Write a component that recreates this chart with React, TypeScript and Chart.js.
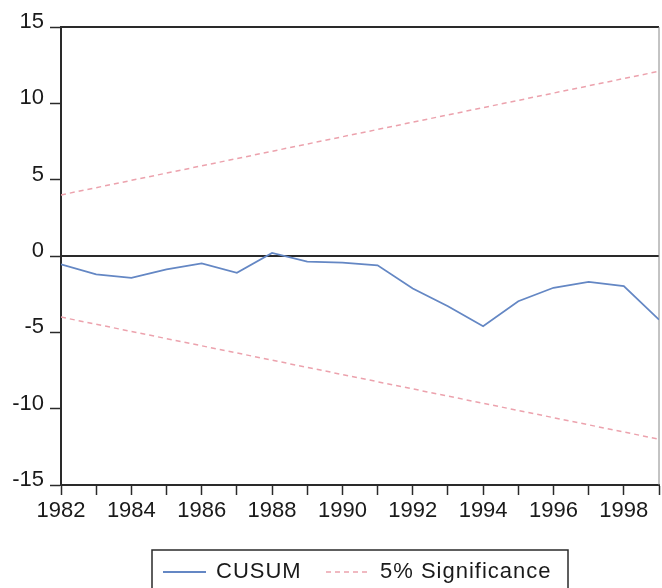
import React, { useEffect, useRef } from "react";
import { Chart, registerables } from "chart.js";

Chart.register(...registerables);

const years = [1982, 1983, 1984, 1985, 1986, 1987, 1988, 1989, 1990, 1991, 1992, 1993, 1994, 1995, 1996, 1997, 1998, 1999];
const cusum = [-0.55, -1.2, -1.43, -0.87, -0.48, -1.1, 0.2, -0.37, -0.44, -0.61, -2.13, -3.29, -4.6, -2.96, -2.08, -1.69, -1.97, -4.17];
const boundYears = [1982, 1999];
const upperBound = [4.0, 12.1];
const lowerBound = [-4.0, -12.0];
const yMin = -15;
const yMax = 15;
const yStep = 5;
const legendLabels = ["CUSUM", "5% Significance"];

const BLUE = "#6487c4";
const PINK = "#eca2ad";
const AXIS = "#2a2a2a";
const FONT = "'Liberation Sans', Arial, sans-serif";

export default function App() {
  const canvasRef = useRef<HTMLCanvasElement | null>(null);

  useEffect(() => {
    const canvas = canvasRef.current;
    if (!canvas) return;

    const framePlugin = {
      id: "frame",
      beforeDatasetsDraw(chart: any) {
        const { ctx, chartArea } = chart;
        const y0 = chart.scales.y.getPixelForValue(0);
        ctx.save();
        ctx.strokeStyle = AXIS;
        ctx.lineWidth = 2;
        ctx.beginPath();
        ctx.moveTo(chartArea.left, y0);
        ctx.lineTo(chartArea.right, y0);
        ctx.stroke();
        ctx.beginPath();
        ctx.moveTo(chartArea.left, chartArea.top);
        ctx.lineTo(chartArea.right, chartArea.top);
        ctx.stroke();
        ctx.lineWidth = 1;
        ctx.strokeStyle = "#888";
        ctx.beginPath();
        ctx.moveTo(chartArea.right, chartArea.top);
        ctx.lineTo(chartArea.right, chartArea.bottom);
        ctx.stroke();
        ctx.restore();
      },
      afterDraw(chart: any) {
        const { ctx, chartArea } = chart;
        const cx = (chartArea.left + chartArea.right) / 2;
        const boxW = 416;
        const boxH = 46;
        const boxL = cx - boxW / 2;
        const boxT = chartArea.bottom + 65;
        ctx.save();
        ctx.strokeStyle = AXIS;
        ctx.lineWidth = 1.5;
        ctx.strokeRect(boxL, boxT, boxW, boxH);
        const midY = boxT + 22;
        // CUSUM entry
        ctx.strokeStyle = BLUE;
        ctx.lineWidth = 2;
        ctx.setLineDash([]);
        ctx.beginPath();
        ctx.moveTo(boxL + 11, midY);
        ctx.lineTo(boxL + 54, midY);
        ctx.stroke();
        ctx.fillStyle = "#1a1a1a";
        ctx.font = `22px ${FONT}`;
        (ctx as any).letterSpacing = "1px";
        ctx.textBaseline = "middle";
        ctx.textAlign = "left";
        ctx.fillText(legendLabels[0], boxL + 64, midY);
        // Significance entry
        ctx.strokeStyle = PINK;
        ctx.lineWidth = 1.5;
        ctx.setLineDash([5, 4]);
        ctx.beginPath();
        ctx.moveTo(boxL + 174, midY);
        ctx.lineTo(boxL + 218, midY);
        ctx.stroke();
        ctx.setLineDash([]);
        ctx.fillText(legendLabels[1], boxL + 228, midY);
        ctx.restore();
      },
    };

    const chart = new Chart(canvas, {
      type: "line",
      data: {
        datasets: [
          {
            label: legendLabels[0],
            data: years.map((x, i) => ({ x, y: cusum[i] })),
            borderColor: BLUE,
            borderWidth: 1.8,
            pointRadius: 0,
            tension: 0,
          },
          {
            label: legendLabels[1],
            data: boundYears.map((x, i) => ({ x, y: upperBound[i] })),
            borderColor: PINK,
            borderWidth: 1.5,
            borderDash: [5, 4],
            pointRadius: 0,
          },
          {
            label: legendLabels[1] + " (lower)",
            data: boundYears.map((x, i) => ({ x, y: lowerBound[i] })),
            borderColor: PINK,
            borderWidth: 1.5,
            borderDash: [5, 4],
            pointRadius: 0,
          },
        ],
      },
      options: {
        animation: false,
        responsive: false,
        maintainAspectRatio: false,
        layout: { padding: { left: 0, top: 27, right: 1, bottom: 0 } },
        plugins: {
          legend: { display: false },
          tooltip: { enabled: false },
        },
        scales: {
          x: {
            type: "linear",
            min: years[0],
            max: years[years.length - 1],
            afterFit(scale: any) {
              scale.height = 103;
            },
            ticks: {
              stepSize: 1,
              autoSkip: false,
              maxRotation: 0,
              padding: 3,
              color: "#1a1a1a",
              font: { family: FONT, size: 22 },
              callback: (v: any) => (Number(v) % 2 === 0 ? String(v) : ""),
            },
            grid: {
              drawOnChartArea: false,
              drawTicks: true,
              tickLength: 10,
              tickColor: AXIS,
              tickWidth: 1.5,
            },
            border: { color: AXIS, width: 2 },
          },
          y: {
            min: yMin,
            max: yMax,
            afterFit(scale: any) {
              scale.width = 61;
            },
            ticks: {
              stepSize: yStep,
              padding: 6,
              labelOffset: -5,
              color: "#1a1a1a",
              font: { family: FONT, size: 22 },
            },
            grid: {
              drawOnChartArea: false,
              drawTicks: true,
              tickLength: 11,
              tickColor: AXIS,
              tickWidth: 1.5,
            },
            border: { color: AXIS, width: 2 },
          },
        },
      },
      plugins: [framePlugin],
    });

    return () => chart.destroy();
  }, []);

  return (
    <div style={{ position: "absolute", left: 0, top: 0, width: 662, height: 588, background: "#fff", overflow: "hidden" }}>
      <canvas ref={canvasRef} width={662} height={588} style={{ width: 662, height: 588, display: "block" }} />
    </div>
  );
}
